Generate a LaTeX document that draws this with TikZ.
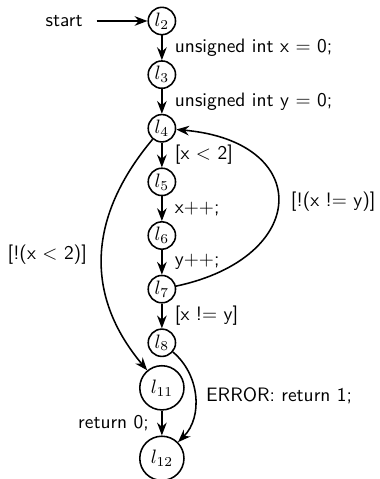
\documentclass[tikz,border=0pt]{standalone}
\usetikzlibrary{arrows.meta,positioning}

\begin{document}
\begin{tikzpicture}[
    node distance=0.448cm,
    font=\sffamily,
    state/.style={circle, draw=black, thick, inner sep=1pt, minimum size=0.47cm},
    bigstate/.style={state, minimum size=0.8cm},
    arrow/.style={-{Stealth}, thick}
]
\useasboundingbox (-2.93,0.38) rectangle (3.93,-8.29);
\node[state] (l2) at (0,0) {$l_2$};
\node[state, below=of l2] (l3) {$l_3$};
\node[state, below=of l3] (l4) {$l_4$};
\node[state, below=of l4] (l5) {$l_5$};
\node[state, below=of l5] (l6) {$l_6$};
\node[state, below=of l6] (l7) {$l_7$};
\node[state, below=of l7] (l8) {$l_8$};
\node[bigstate, below=0.14cm of l8] (l11) {$l_{11}$};
\node[bigstate, below=of l11] (l12) {$l_{12}$};
\node[inner xsep=7pt, left=0.92cm of l2] (start) {start};
\draw[arrow] (start) -- (l2);
\draw[arrow] (l2) -- node[right=3pt] {unsigned int x $=$ 0;} (l3);
\draw[arrow] (l3) -- node[right=3pt] {unsigned int y $=$ 0;} (l4);
\draw[arrow] (l4) -- node[right=3pt] {[x $<$ 2]} (l5);
\draw[arrow] (l5) -- node[right=3pt] {x$++$;} (l6);
\draw[arrow] (l6) -- node[right=3pt] {y$++$;} (l7);
\draw[arrow] (l7) -- node[right=3pt] {[x != y]} (l8);
\draw[arrow] (l7) to[out=12, in=-5, looseness=2.25] node[right=3pt] {[!(x != y)]} (l4);
\draw[arrow] (l4) to[out=230, in=130, looseness=1.1] node[left=4pt] {[!(x $<$ 2)]} (l11);
\draw[arrow] (l8) to[out=-40, in=45] node[right=2pt] {ERROR: return 1;} (l12);
\draw[arrow] (l11) -- node[left=3pt] {return 0;} (l12);
\end{tikzpicture}
\end{document}
